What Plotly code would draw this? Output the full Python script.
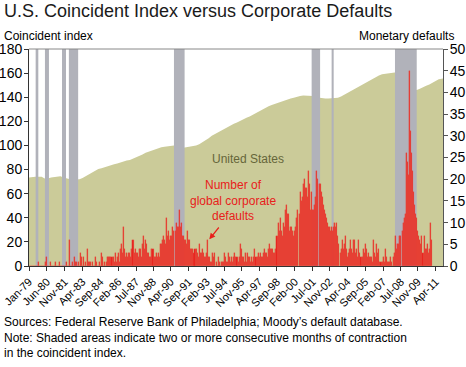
import plotly.graph_objects as go

# ---------------- data ----------------
# Coincident index (left axis), quarterly readings Jan/Apr/Jul/Oct, last point Nov-2011
idx_1979_1988 = [73.5, 74, 74, 74, 74, 72.5, 72.5, 73.5, 74, 74.5, 74.5, 73.5,
                 72.5, 72, 71.5, 71.5, 72, 73, 74.5, 76, 77.5, 79, 80.5, 81,
                 82, 83, 84, 84.5, 85, 86, 86.5, 87.5, 88, 89, 90.5, 91.5,
                 92.5, 94, 95, 96]
idx_1989_1998 = [97, 98, 98.5, 99, 99.5, 100, 100, 99, 98, 98, 98.5, 98.5,
                 99, 100, 101, 102.5, 104, 106, 108, 109.5, 111, 112.5, 114, 115.5,
                 117, 118, 119, 120.5, 121.5, 123, 124, 125.5, 127, 128.5, 130, 131.5,
                 132.5, 133.5, 134.5, 135.5]
idx_1999_2008 = [136.5, 137.5, 138.5, 139, 139.5, 140.5, 141, 141.5,
                 141.5, 141.5, 141, 140, 139.5, 139, 139, 139, 139, 139, 139.5, 140.5,
                 142, 143.5, 145, 146.5, 148, 149.5, 151, 152.5, 154, 155.5, 157, 158,
                 159, 159.5, 160, 160.5, 160.5, 159.5, 157.5, 153.5]
idx_2009_2011 = [149, 146.5, 146, 146, 147, 148.5, 149.5, 150.5, 152, 153.5, 155, 155.5]

# Number of global corporate defaults (right axis), monthly
def_1979 = [0, 0, 0, 0, 0, 0, 0, 0, 0, 1, 0, 0]
def_1980 = [0, 0, 0, 0, 1, 2, 0, 0, 1, 0, 0, 0]
def_1981 = [0, 1, 0, 0, 0, 1, 0, 0, 0, 0, 0, 0]
def_1982 = [1, 0, 0, 6, 0, 1, 0, 2, 1, 1, 0, 1]
def_1983 = [0, 3, 2, 0, 2, 0, 1, 0, 4, 1, 1, 1]
def_1984 = [1, 0, 0, 2, 1, 0, 0, 1, 0, 3, 2, 0]
def_1985 = [1, 0, 1, 2, 2, 2, 2, 2, 2, 1, 3, 1]
def_1986 = [2, 3, 1, 4, 5, 3, 9, 4, 2, 3, 2, 3]
def_1987 = [3, 2, 4, 6, 3, 4, 3, 3, 2, 4, 4, 2]
def_1988 = [5, 7, 4, 6, 5, 3, 3, 2, 2, 4, 4, 2]
def_1989 = [2, 3, 2, 3, 2, 5, 5, 6, 7, 6, 5, 11]
def_1990 = [7, 8, 6, 7, 7, 9, 8, 8, 10, 9, 9, 13]
def_1991 = [9, 10, 7, 7, 6, 6, 5, 8, 6, 6, 4, 4]
def_1992 = [4, 3, 4, 4, 3, 2, 5, 3, 3, 4, 3, 2]
def_1993 = [2, 3, 6, 2, 2, 1, 1, 3, 2, 3, 1, 0]
def_1994 = [2, 1, 0, 1, 1, 1, 3, 2, 1, 1, 3, 2]
def_1995 = [1, 2, 1, 2, 3, 2, 2, 1, 2, 5, 4, 2]
def_1996 = [2, 1, 3, 1, 3, 2, 2, 1, 2, 1, 2, 4]
def_1997 = [2, 2, 3, 2, 3, 2, 2, 3, 4, 3, 3, 2]
def_1998 = [4, 5, 4, 4, 4, 3, 3, 4, 7, 10, 8, 11]
def_1999 = [8, 7, 10, 9, 13, 14, 12, 12, 8, 9, 9, 8]
def_2000 = [7, 8, 9, 11, 13, 12, 17, 15, 16, 19, 20, 18]
def_2001 = [18, 16, 22, 19, 13, 17, 13, 13, 14, 16, 22, 20]
def_2002 = [19, 19, 17, 16, 14, 13, 12, 11, 10, 9, 9, 8]
def_2003 = [9, 8, 9, 10, 9, 10, 7, 5, 3, 4, 6, 4]
def_2004 = [5, 7, 4, 2, 3, 4, 6, 4, 3, 6, 6, 3]
def_2005 = [4, 2, 6, 3, 2, 2, 4, 3, 5, 4, 2, 3]
def_2006 = [2, 2, 2, 1, 6, 3, 2, 5, 3, 4, 1, 1]
def_2007 = [1, 2, 1, 4, 2, 1, 1, 1, 2, 1, 0, 2]
def_2008 = [3, 7, 4, 5, 5, 7, 7, 8, 10, 11, 12, 26]
def_2009 = [24, 21, 45, 31, 26, 22, 17, 14, 12, 11, 8, 7]
def_2010 = [6, 5, 7, 3, 7, 4, 4, 5, 3, 4, 10, 6]

# Shaded contraction periods (start, end)
rec_start = ["1979-07-13", "1980-04-07", "1981-08-14", "1982-03-01",
             "1990-07-01", "2001-06-01", "2003-01-01", "2008-01-10"]
rec_end = ["1979-09-28", "1980-08-01", "1981-12-08", "1982-11-25",
           "1991-05-05", "2002-02-01", "2003-03-01", "2009-10-01"]

tick_dates = ["1979-01-01", "1980-06-01", "1981-11-01", "1983-04-01", "1984-09-01",
              "1986-02-01", "1987-07-01", "1988-11-01", "1990-04-01", "1991-09-01",
              "1993-02-01", "1994-07-01", "1995-11-01", "1997-04-01", "1998-09-01",
              "2000-02-01", "2001-07-01", "2002-11-01", "2004-04-01", "2005-09-01",
              "2007-02-01", "2008-07-01", "2009-11-01", "2011-04-01"]
tick_labels = ["Jan-79", "Jun-80", "Nov-81", "Apr-83", "Sep-84", "Feb-86", "Jul-87",
               "Nov-88", "Apr-90", "Sep-91", "Feb-93", "Jul-94", "Nov-95", "Apr-97",
               "Sep-98", "Feb-00", "Jul-01", "Nov-02", "Apr-04", "Sep-05", "Feb-07",
               "Jul-08", "Nov-09", "Apr-11"]

LEFT_MAX = 180
RIGHT_MAX = 50

# ---------------- assemble ----------------
idx_values = idx_1979_1988 + idx_1989_1998 + idx_1999_2008 + idx_2009_2011
idx_dates = [f"{y}-{m:02d}-01" for y in range(1979, 2012) for m in (1, 4, 7, 10)][:-1] + ["2011-11-01"]

def_years = [def_1979, def_1980, def_1981, def_1982, def_1983, def_1984, def_1985,
             def_1986, def_1987, def_1988, def_1989, def_1990, def_1991, def_1992,
             def_1993, def_1994, def_1995, def_1996, def_1997, def_1998, def_1999,
             def_2000, def_2001, def_2002, def_2003, def_2004, def_2005, def_2006,
             def_2007, def_2008, def_2009, def_2010]
def_values, def_dates = [], []
for i, vals in enumerate(def_years):
    for m, v in enumerate(vals):
        def_dates.append(f"{1979 + i}-{m + 1:02d}-01")
        def_values.append(v)

rx, ry = [], []
for s, e in zip(rec_start, rec_end):
    rx += [s, s, e, e, s, None]
    ry += [0, LEFT_MAX, LEFT_MAX, 0, 0, None]

FONT = "Liberation Sans, Arial, sans-serif"
AREA = "#CBCB99"
GRAY = "#B1B2BA"
RED = "#E8201B"

fig = go.Figure()
fig.add_trace(go.Scatter(x=idx_dates, y=idx_values, mode="lines", fill="tozeroy",
                         fillcolor=AREA, line=dict(width=0, color=AREA),
                         hoverinfo="skip", showlegend=False))
fig.add_trace(go.Scatter(x=rx, y=ry, mode="lines", fill="toself", fillcolor=GRAY,
                         line=dict(width=0, color=GRAY), hoverinfo="skip",
                         showlegend=False))
fig.add_trace(go.Bar(x=def_dates, y=def_values, yaxis="y2",
                     width=30 * 24 * 3600 * 1000,
                     marker=dict(color=RED, line=dict(color="#EE5A4C", width=0.3)),
                     showlegend=False))

fig.update_layout(
    width=466, height=367,
    margin=dict(l=29, r=23, t=49, b=101, autoexpand=False),
    paper_bgcolor="white", plot_bgcolor="white",
    font=dict(family=FONT, color="black"),
    bargap=0,
    xaxis=dict(type="date", range=["1979-01-01", "2011-11-01"], automargin=False,
               tickvals=tick_dates, ticktext=tick_labels, tickangle=-45,
               tickfont=dict(size=11, family=FONT), ticks="outside", ticklen=4,
               tickcolor="#333", showline=True, linecolor="#333", linewidth=1,
               showgrid=False, zeroline=False),
    yaxis=dict(range=[0, LEFT_MAX], dtick=20, ticks="outside", ticklen=4,
               automargin=False, ticklabelstandoff=-1,
               tickcolor="#333", showline=True, linecolor="#333", linewidth=1,
               showgrid=False, zeroline=False, tickfont=dict(size=14, family=FONT)),
    yaxis2=dict(range=[0, RIGHT_MAX], dtick=5, overlaying="y", side="right",
                automargin=False, ticklabelstandoff=-1,
                ticks="outside", ticklen=4, tickcolor="#555", showline=True,
                linecolor="#555", linewidth=1, showgrid=False, zeroline=False,
                tickfont=dict(size=14, family=FONT)),
    shapes=[dict(type="line", xref="paper", yref="paper", x0=0, x1=1, y0=1, y1=1,
                 line=dict(color="#888", width=1))],
    annotations=[
        dict(text="U.S. Coincident Index versus Corporate Defaults", xref="paper",
             yref="paper", x=-0.0655, y=1.175, xanchor="left", yanchor="middle",
             showarrow=False, font=dict(size=18, family=FONT, color="#1a1a1a")),
        dict(text="Coincident index", xref="paper", yref="paper", x=-0.065, y=1.058,
             xanchor="left", yanchor="middle", showarrow=False,
             font=dict(size=12, family=FONT)),
        dict(text="Monetary defaults", xref="paper", yref="paper", x=1.031, y=1.058,
             xanchor="right", yanchor="middle", showarrow=False,
             font=dict(size=12, family=FONT)),
        dict(text="United States", xref="paper", yref="paper", x=0.528, y=0.492,
             xanchor="center", yanchor="middle", showarrow=False,
             font=dict(size=12, family=FONT, color="#66663A")),
        dict(text="Number of<br>global corporate<br>defaults", xref="paper", yref="paper",
             x=0.493, y=0.304, xanchor="center", yanchor="middle", showarrow=False,
             font=dict(size=12, family=FONT, color=RED)),
        dict(text="", xref="paper", yref="paper", x=(209.3 - 29) / 414,
             y=(266 - 239.3) / 217, ax=10.7, ay=-13.3, showarrow=True,
             arrowhead=2, arrowsize=1, arrowwidth=1.2, arrowcolor=RED),
        dict(text="Sources: Federal Reserve Bank of Philadelphia; Moody\u2019s default database.",
             xref="paper", yref="paper", x=-0.065, y=-0.257, xanchor="left",
             yanchor="middle", showarrow=False, font=dict(size=12, family=FONT)),
        dict(text="Note: Shaded areas indicate two or more consecutive months of contraction",
             xref="paper", yref="paper", x=-0.065, y=-0.332, xanchor="left",
             yanchor="middle", showarrow=False, font=dict(size=12, family=FONT)),
        dict(text="in the coincident index.",
             xref="paper", yref="paper", x=-0.065, y=-0.403, xanchor="left",
             yanchor="middle", showarrow=False, font=dict(size=12, family=FONT)),
    ],
)

fig.write_html("out.html", config={"displayModeBar": False},
               post_script="document.body.style.margin='0';document.body.style.padding='0';")
